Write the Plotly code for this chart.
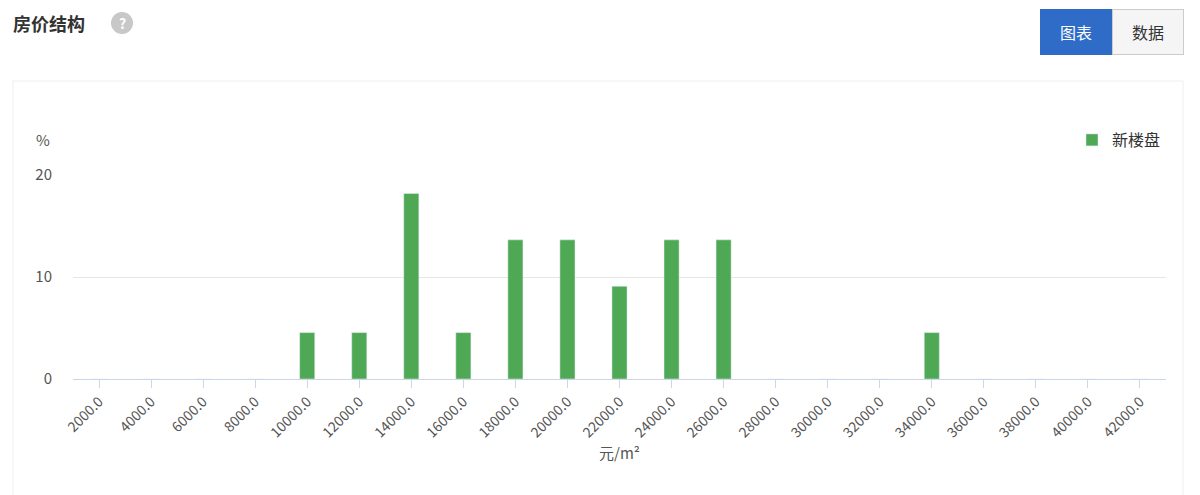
import plotly.graph_objects as go

categories = ["2000.0","4000.0","6000.0","8000.0","10000.0","12000.0","14000.0","16000.0","18000.0","20000.0","22000.0","24000.0","26000.0","28000.0","30000.0","32000.0","34000.0","36000.0","38000.0","40000.0","42000.0"]
values = [0,0,0,0,4.55,4.55,18.18,4.55,13.64,13.64,9.09,13.64,13.64,0,0,0,4.55,0,0,0,0]
series_name = "新楼盘"

W, H = 1093, 204
def px(x): return (x - 72) / W
def py(y): return (378 - y) / H

font = "Noto Sans CJK SC"
fig = go.Figure(go.Bar(x=categories, y=values, name=series_name, marker_color="#4fa954",
                       hovertemplate="%{x}: %{y:.1f}%<extra></extra>"))
fig.update_layout(
    width=1200, height=495, paper_bgcolor="white", plot_bgcolor="white",
    margin=dict(l=65, r=42, t=167, b=124, autoexpand=False),
    bargap=0.71, font=dict(family=font, color="#333", size=14),
    showlegend=True,
    legend=dict(x=1, xanchor="right", y=py(139), yanchor="middle", font=dict(size=16, color="#333"),
                bgcolor="rgba(0,0,0,0)"),
    xaxis=dict(type="category", tickangle=-45, showline=True, linecolor="#ccd6eb",
               ticks="outside", ticklen=8, tickcolor="#ccd6eb", tickfont=dict(size=14, color="#555"),
               title=dict(text="元/m²", font=dict(size=15, color="#555"), standoff=8)),
    yaxis=dict(range=[0, 20], tickvals=[0, 10, 20], gridcolor="#e6e6e6", zeroline=False,
               tickfont=dict(size=15, color="#555"), ticklabelstandoff=20),
    shapes=[
        dict(type="rect", xref="paper", yref="paper", x0=px(12), x1=px(1182), y0=py(600), y1=py(80),
             line=dict(color="#eeeeee", width=1), layer="below"),
        dict(type="circle", xref="paper", yref="paper", x0=px(110), x1=px(132), y0=py(33), y1=py(11),
             fillcolor="#c8c8c8", line=dict(width=0)),
    ],
    annotations=[
        dict(text="%", xref="paper", yref="paper", x=px(42), y=py(138), xanchor="center", yanchor="middle",
             showarrow=False, font=dict(size=15, color="#555")),
        dict(text="<b>房价结构</b>", xref="paper", yref="paper", x=px(10), xanchor="left", y=py(22), yanchor="middle",
             showarrow=False, font=dict(size=18, color="#333")),
        dict(text="<b>?</b>", xref="paper", yref="paper", x=px(121), y=py(22), xanchor="center", yanchor="middle",
             showarrow=False, font=dict(size=14, color="white")),
        dict(text="图表", xref="paper", yref="paper", x=px(1075), y=py(31), xanchor="center", yanchor="middle",
             showarrow=False, font=dict(size=16, color="white"),
             bgcolor="#2f6cc8", bordercolor="#2f6cc8", width=68, height=42),
        dict(text="数据", xref="paper", yref="paper", x=px(1147), y=py(31), xanchor="center", yanchor="middle",
             showarrow=False, font=dict(size=16, color="#333"),
             bgcolor="#f5f5f5", bordercolor="#cccccc", width=68, height=42),
    ],
)
fig.write_html("out.html")
